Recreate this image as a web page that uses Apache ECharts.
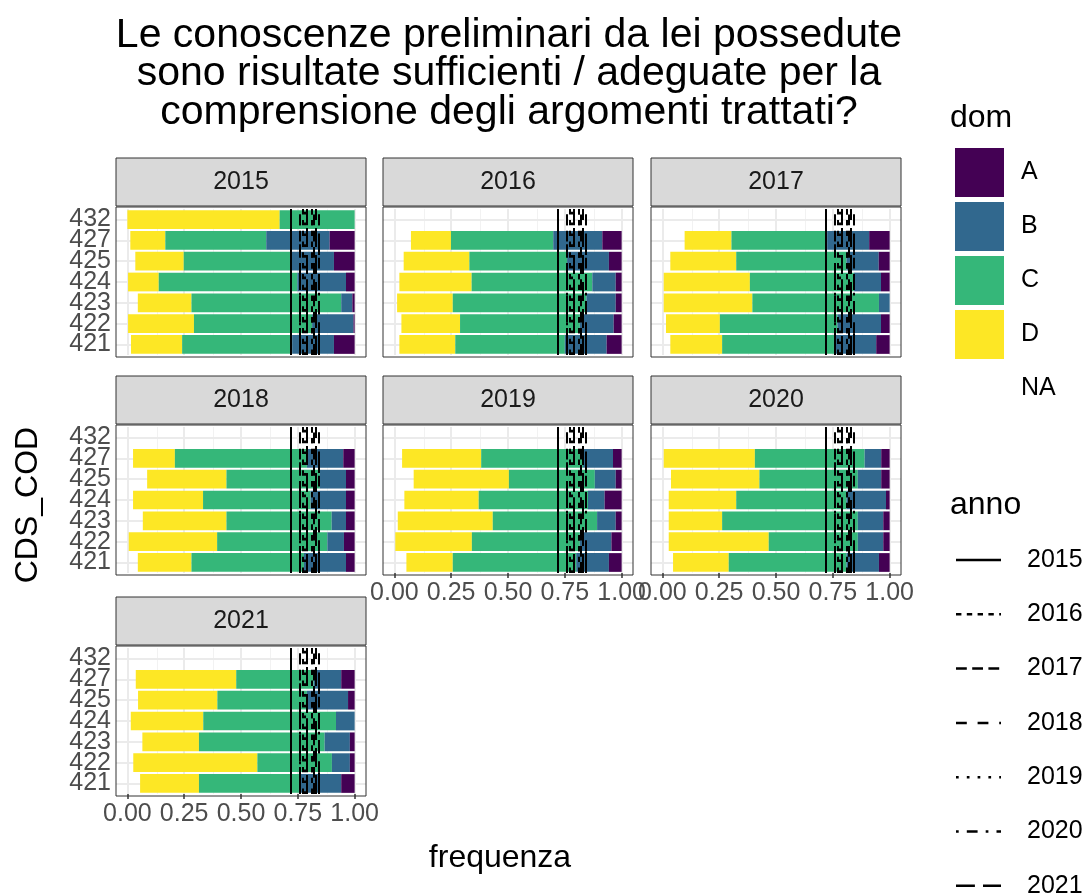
<!DOCTYPE html>
<html>
<head>
<meta charset="utf-8">
<script src="https://cdn.jsdelivr.net/npm/echarts@6/dist/echarts.min.js"></script>
<style>
  html, body { margin: 0; background: #fff; }
  #chart { width: 1088px; height: 894px; }
</style>
</head>
<body>
<div id="chart"></div>
<script>
// categorie asse y (dal basso verso l'alto)
const cds = ['421', '422', '423', '424', '425', '427', '432'];
const domLevels = ['NA', 'D', 'C', 'B', 'A'];
const annoLevels = ['2015', '2016', '2017', '2018', '2019', '2020', '2021'];
const xTicks = [0, 0.25, 0.5, 0.75, 1];

// quote per riga (421 ... 432): [NA, D, C, B, A]
const q2015 = [
  [0.016, 0.225, 0.484, 0.184, 0.091],
  [0.003, 0.290, 0.520, 0.182, 0.005],
  [0.046, 0.236, 0.659, 0.049, 0.010],
  [0.003, 0.135, 0.610, 0.214, 0.038],
  [0.035, 0.213, 0.470, 0.191, 0.091],
  [0.013, 0.154, 0.444, 0.279, 0.110],
  [0.000, 0.670, 0.330, 0.000, 0.000]
];
const q2016 = [
  [0.022, 0.246, 0.482, 0.184, 0.066],
  [0.031, 0.258, 0.527, 0.149, 0.035],
  [0.012, 0.245, 0.588, 0.129, 0.026],
  [0.022, 0.318, 0.531, 0.103, 0.026],
  [0.041, 0.289, 0.430, 0.184, 0.056],
  [0.073, 0.176, 0.450, 0.216, 0.085],
  [0, 0, 0, 0, 0]
];
const q2017 = [
  [0.035, 0.228, 0.492, 0.186, 0.059],
  [0.016, 0.237, 0.517, 0.192, 0.038],
  [0.006, 0.390, 0.557, 0.047, 0.000],
  [0.006, 0.379, 0.458, 0.119, 0.038],
  [0.035, 0.290, 0.485, 0.142, 0.048],
  [0.098, 0.206, 0.421, 0.185, 0.090],
  [0, 0, 0, 0, 0]
];
const q2018 = [
  [0.046, 0.236, 0.495, 0.185, 0.038],
  [0.006, 0.389, 0.485, 0.073, 0.047],
  [0.068, 0.368, 0.463, 0.063, 0.038],
  [0.025, 0.308, 0.473, 0.156, 0.038],
  [0.087, 0.349, 0.411, 0.115, 0.038],
  [0.025, 0.184, 0.581, 0.160, 0.050],
  [0, 0, 0, 0, 0]
];
const q2019 = [
  [0.053, 0.204, 0.543, 0.144, 0.056],
  [0.004, 0.337, 0.475, 0.139, 0.045],
  [0.015, 0.418, 0.459, 0.082, 0.026],
  [0.044, 0.327, 0.481, 0.073, 0.075],
  [0.085, 0.419, 0.378, 0.092, 0.026],
  [0.034, 0.348, 0.448, 0.132, 0.038],
  [0, 0, 0, 0, 0]
];
const q2020 = [
  [0.047, 0.245, 0.518, 0.143, 0.047],
  [0.028, 0.440, 0.392, 0.112, 0.028],
  [0.028, 0.235, 0.597, 0.112, 0.028],
  [0.028, 0.297, 0.485, 0.174, 0.016],
  [0.038, 0.389, 0.433, 0.103, 0.037],
  [0.006, 0.401, 0.483, 0.073, 0.037],
  [0, 0, 0, 0, 0]
];
const q2021 = [
  [0.056, 0.259, 0.440, 0.186, 0.059],
  [0.026, 0.546, 0.328, 0.079, 0.021],
  [0.066, 0.249, 0.553, 0.111, 0.021],
  [0.015, 0.319, 0.584, 0.082, 0.000],
  [0.047, 0.349, 0.394, 0.181, 0.029],
  [0.037, 0.442, 0.341, 0.121, 0.059],
  [0, 0, 0, 0, 0]
];

// linee verticali (medie) per anno
const vline2015 = [0.72];
const vline2016 = [0.768, 0.812];
const vline2017 = [0.758, 0.822];
const vline2018 = [0.79, 0.838];
const vline2019 = [0.775, 0.805];
const vline2020 = [0.763, 0.845];
const vline2021 = [0.785, 0.828];

const vlines = [vline2015, vline2016, vline2017, vline2018, vline2019, vline2020, vline2021];
// tipi di linea ggplot: solid, 22, 42, 44, 13, 1343, 73
const dashes = ['solid', [5.4, 5.4], [10.8, 5.4], [10.8, 10.8], [2.7, 8.1], [2.7, 8.1, 10.8, 8.1], [18.9, 8.1]];
const domColors = { NA: 'rgba(0,0,0,0)', D: '#FDE725', C: '#35B779', B: '#31688E', A: '#440154' };

const colLeft = [116, 383, 651];
const rowTop = [207, 425, 646];
const panelW = 250, panelH = 150, stripH = 48;
const padY = 2.1; // espansione discreta 0.6 invece di 0.5

const panels = [
  { year: '2015', rows: q2015, c: 0, r: 0, xlab: false },
  { year: '2016', rows: q2016, c: 1, r: 0, xlab: false },
  { year: '2017', rows: q2017, c: 2, r: 0, xlab: false },
  { year: '2018', rows: q2018, c: 0, r: 1, xlab: false },
  { year: '2019', rows: q2019, c: 1, r: 1, xlab: true },
  { year: '2020', rows: q2020, c: 2, r: 1, xlab: true },
  { year: '2021', rows: q2021, c: 0, r: 2, xlab: true }
];

let grids = [], xAxes = [], yAxes = [], series = [], graphics = [];

panels.forEach((p, i) => {
  const left = colLeft[p.c], top = rowTop[p.r];
  grids.push({ left: left, top: top + padY, width: panelW, height: panelH - 2 * padY });
  xAxes.push({
    type: 'value', gridIndex: i, min: -0.05, max: 1.05,
    splitLine: { show: false }, axisLine: { show: false },
    axisTick: { show: p.xlab, length: 5, customValues: xTicks, lineStyle: { color: '#333', width: 1.5 } },
    axisLabel: {
      show: p.xlab, customValues: xTicks, fontSize: 25, color: '#4d4d4d', margin: 8,
      fontFamily: 'Liberation Sans', hideOverlap: false,
      formatter: v => v.toFixed(2)
    }
  });
  yAxes.push({
    type: 'category', gridIndex: i, data: cds,
    axisLine: { show: false }, splitLine: { show: false },
    axisTick: { show: p.c === 0, alignWithLabel: true, length: 5, lineStyle: { color: '#333', width: 1.5 } },
    axisLabel: { show: p.c === 0, interval: 0, fontSize: 25, color: '#4d4d4d', margin: 5, fontFamily: 'Liberation Sans' }
  });

  // griglia sotto le barre
  const gl = [];
  xTicks.forEach(v => gl.push({ xAxis: v, lineStyle: { width: 2, color: '#ebebeb', type: 'solid' } }));
  [0.125, 0.375, 0.625, 0.875].forEach(v => gl.push({ xAxis: v, lineStyle: { width: 1, color: '#f2f2f2', type: 'solid' } }));
  cds.forEach(c => gl.push({ yAxis: c, lineStyle: { width: 2, color: '#ebebeb', type: 'solid' } }));
  series.push({
    name: 'grid', type: 'line', xAxisIndex: i, yAxisIndex: i, data: [], z: 1, silent: true,
    markLine: { symbol: 'none', silent: true, z: 1, label: { show: false }, animation: false, data: gl }
  });

  domLevels.forEach((d, k) => {
    series.push({
      name: d, type: 'bar', stack: 'p' + i, xAxisIndex: i, yAxisIndex: i,
      barCategoryGap: '10%', z: 2, silent: true,
      itemStyle: { color: domColors[d] },
      data: p.rows.map(r => r[k])
    });
  });

  annoLevels.forEach((a, k) => {
    series.push({
      name: a, type: 'line', xAxisIndex: i, yAxisIndex: i, data: [], z: 6,
      symbol: 'none', silent: true,
      lineStyle: { color: '#000', width: 2, type: dashes[k] },
      markLine: {
        symbol: 'none', silent: true, z: 6, label: { show: false }, animation: false,
        lineStyle: { color: '#000', width: 2, type: dashes[k] },
        data: vlines[k].map(v => ({ xAxis: v }))
      }
    });
  });

  // bordo pannello e strip
  graphics.push({
    type: 'rect', shape: { x: left, y: top, width: panelW, height: panelH },
    style: { fill: null, stroke: '#333', lineWidth: 1 }, z: 10
  });
  graphics.push({
    type: 'rect', shape: { x: left, y: top - stripH - 1, width: panelW, height: stripH },
    style: { fill: '#d9d9d9', stroke: '#333', lineWidth: 1 }, z: 10
  });
  graphics.push({
    type: 'text', x: left + panelW / 2, y: top - stripH / 2 - 1, z: 11,
    style: { text: p.year, fontSize: 25, fill: '#1a1a1a', align: 'center', verticalAlign: 'middle', fontFamily: 'Liberation Sans' }
  });
});

// legenda anno (linee tratteggiate)
annoLevels.forEach((a, k) => {
  const y = 560 + k * 54.3;
  graphics.push({
    type: 'line', z: 11, shape: { x1: 956, y1: y, x2: 1001, y2: y },
    style: { stroke: '#000', lineWidth: 2.5, lineDash: dashes[k] === 'solid' ? null : dashes[k] }
  });
  graphics.push({
    type: 'text', x: 1027, y: y, z: 11,
    style: { text: a, fontSize: 25, fill: '#000', verticalAlign: 'middle', fontFamily: 'Liberation Sans' }
  });
});

// titoli
graphics.push({
  type: 'text', x: 509, y: 16, z: 11,
  style: {
    text: 'Le conoscenze preliminari da lei possedute\nsono risultate sufficienti / adeguate per la\ncomprensione degli argomenti trattati?',
    fontSize: 41, lineHeight: 38.5, fill: '#000', align: 'center', fontFamily: 'Liberation Sans'
  }
});
graphics.push({
  type: 'text', x: 500, y: 858, z: 11,
  style: { text: 'frequenza', fontSize: 32, fill: '#000', align: 'center', verticalAlign: 'middle', fontFamily: 'Liberation Sans' }
});
graphics.push({
  type: 'text', x: 28, y: 505, rotation: Math.PI / 2, z: 11,
  style: { text: 'CDS_COD', fontSize: 32, fill: '#000', align: 'center', verticalAlign: 'middle', fontFamily: 'Liberation Sans' }
});
graphics.push({
  type: 'text', x: 950, y: 118, z: 11,
  style: { text: 'dom', fontSize: 32, fill: '#000', verticalAlign: 'middle', fontFamily: 'Liberation Sans' }
});
graphics.push({
  type: 'text', x: 950, y: 505, z: 11,
  style: { text: 'anno', fontSize: 32, fill: '#000', verticalAlign: 'middle', fontFamily: 'Liberation Sans' }
});

const chart = echarts.init(document.getElementById('chart'), null, { renderer: 'canvas' });
chart.setOption({
  animation: false,
  backgroundColor: '#fff',
  grid: grids,
  xAxis: xAxes,
  yAxis: yAxes,
  legend: [
    {
      data: ['A', 'B', 'C', 'D', 'NA'], orient: 'vertical', left: 955, top: 148, padding: 0,
      itemWidth: 49, itemHeight: 49, itemGap: 5, icon: 'rect', selectedMode: false,
      textStyle: { fontSize: 25, color: '#000', fontFamily: 'Liberation Sans', padding: [0, 0, 0, 12] }
    }
  ],
  graphic: graphics,
  series: series
});
</script>
</body>
</html>
